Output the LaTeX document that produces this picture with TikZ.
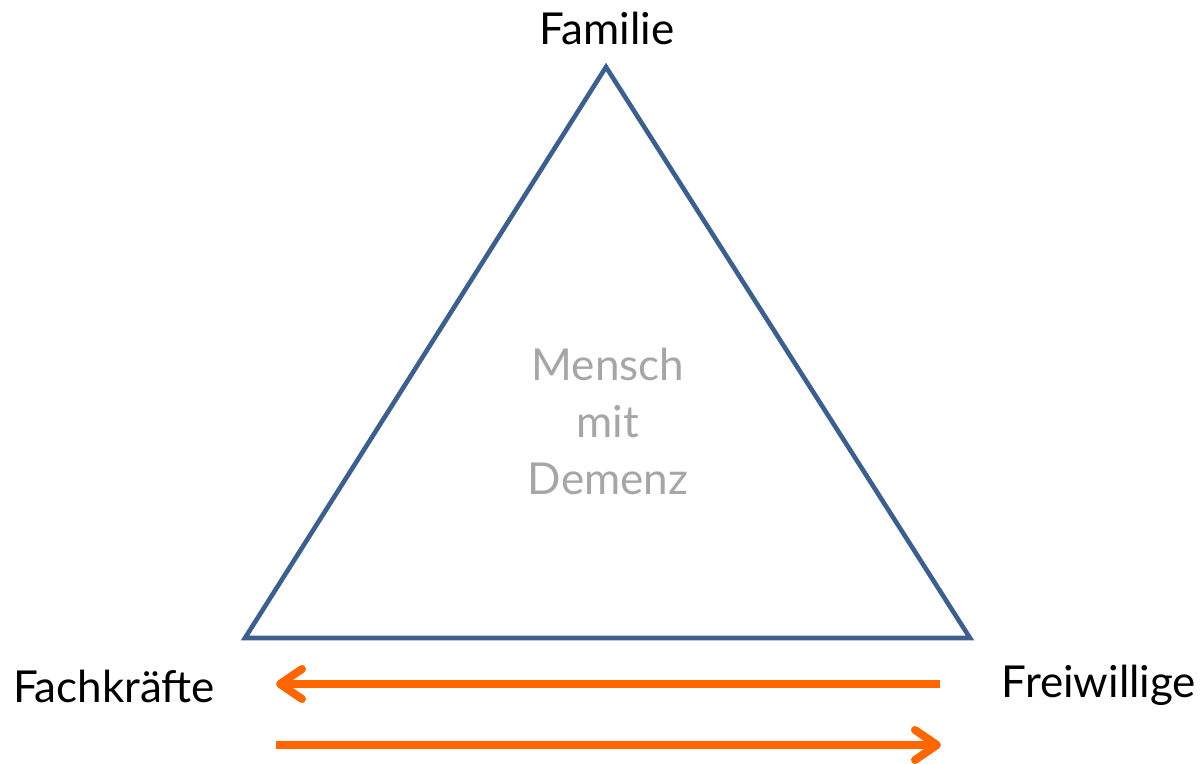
\documentclass[tikz,border=0pt]{standalone}
\usepackage{fontspec}
\setmainfont{Lato}
\usetikzlibrary{arrows.meta}
\definecolor{triblue}{HTML}{3C5F8D}
\definecolor{arrorange}{HTML}{FF6600}
\definecolor{centergray}{HTML}{A6A6A6}
\tikzset{
  edge/.style={draw=triblue, line width=2.3pt, line join=miter},
  label/.style={font=\fontsize{22}{26}\selectfont, text=black, inner sep=0pt},
  flow/.style={draw=arrorange, line width=4pt,
    -{Straight Barb[length=11pt, width=15pt, line width=4pt, round]}},
}
\begin{document}
\begin{tikzpicture}[x=0.5pt, y=-0.5pt]
  \useasboundingbox (0,0) rectangle (1200,764);
  % corners of the triangle
  \coordinate (top) at (606,67);
  \coordinate (bl) at (245,638);
  \coordinate (br) at (970,638);
  \draw[edge] (top) -- (br) -- (bl) -- cycle;

  % labels at the corners
  \node[label, anchor=base] (fam) at (607,45) {Familie};
  \node[label, anchor=base] (fach) at (114,702) {Fachkräfte};
  \node[label, anchor=base] (frei) at (1099,697) {Freiwillige};

  % centre text
  \node[label, text=centergray, align=center, font=\fontsize{22}{28.5}\selectfont]
    (mmd) at (608,421) {Mensch\\mit\\Demenz};

  % exchange arrows along the base
  \coordinate (a1s) at (940,684);
  \coordinate (a1e) at (276,684);
  \coordinate (a2s) at (276,745);
  \coordinate (a2e) at (941,745);
  \draw[flow] (a1s) -- (a1e);
  \draw[flow] (a2s) -- (a2e);
\end{tikzpicture}
\end{document}
